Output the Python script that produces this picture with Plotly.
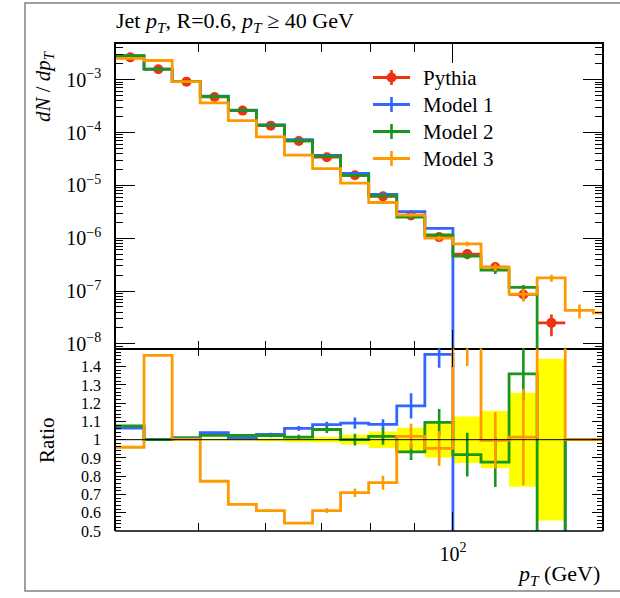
import math
import plotly.graph_objects as go

# ---- data -------------------------------------------------------------
# log-spaced jet pT bin edges (GeV)
edges = [40.0, 43.17, 46.6, 50.3, 54.29, 58.6, 63.25, 68.27, 73.68, 79.53,
         85.84, 92.65, 100.0, 107.94, 116.5, 125.74, 135.72, 146.49, 158.11]

pythia = [2.65e-3, 1.58e-3, 9.2e-4, 4.7e-4, 2.6e-4, 1.35e-4, 6.9e-5, 3.4e-5,
          1.55e-5, 6.2e-6, 2.7e-6, 1.05e-6, 5.0e-7, 2.85e-7, 8.6e-8, 2.5e-8,
          None, None]
pythia_relerr = [0.002, 0.003, 0.004, 0.005, 0.006, 0.008, 0.012, 0.016,
                 0.027, 0.045, 0.065, 0.098, 0.127, 0.157, 0.257, 0.443,
                 None, None]

model1 = [2.82e-3, 1.58e-3, 9.29e-4, 4.88e-4, 2.63e-4, 1.39e-4, 7.33e-5,
          3.68e-5, 1.69e-5, 6.72e-6, 3.20e-6, 1.54e-6, 0, 0, 0, 0, 0, 0]
model1_relerr = [0.003, 0.003, 0.004, 0.005, 0.006, 0.008, 0.012, 0.015,
                 0.028, 0.026, 0.058, 0.05, 0, 0, 0, 0, 0, 0]

model2 = [2.85e-3, 1.58e-3, 9.29e-4, 4.81e-4, 2.66e-4, 1.38e-4, 7.0e-5,
          3.59e-5, 1.55e-5, 6.31e-6, 2.52e-6, 1.15e-6, 4.59e-7, 2.50e-7,
          1.17e-7, 0, 0, 0]
model2_relerr = [0.003, 0.003, 0.004, 0.005, 0.006, 0.008, 0.012, 0.018,
                 0.032, 0.045, 0.047, 0.067, 0.13, 0.155, 0.107, 0, 0, 0]

model3 = [2.54e-3, 2.31e-3, 9.23e-4, 3.63e-4, 1.68e-4, 8.26e-5, 3.75e-5,
          2.08e-5, 1.10e-5, 4.74e-6, 2.75e-6, 1.0e-6, 7.8e-7, 2.84e-7,
          8.72e-8, 1.77e-7, 4.3e-8, 3.85e-8]
model3_relerr = [0.003, 0.003, 0.004, 0.006, 0.008, 0.01, 0.012, 0.022,
                 0.033, 0.05, 0.067, 0.1, 0.1, 0.155, 0.26, 0.15, 0.3, 0.35]

main_decades = [1e-3, 1e-4, 1e-5, 1e-6, 1e-7, 1e-8]
main_ticktext = ["10<sup>−3</sup>", "10<sup>−4</sup>", "10<sup>−5</sup>",
                 "10<sup>−6</sup>", "10<sup>−7</sup>", "10<sup>−8</sup>"]
ratio_tickvals = [0.5, 0.6, 0.7, 0.8, 0.9, 1.0, 1.1, 1.2, 1.3, 1.4]
ratio_ticktext = ["0.5", "0.6", "0.7", "0.8", "0.9", "1", "1.1", "1.2", "1.3", "1.4"]
x_minor_ticks = [50, 60, 70, 80, 90]

series = [
    ("Model 1", model1, model1_relerr, "#3366FF"),
    ("Model 2", model2, model2_relerr, "#1A961A"),
    ("Model 3", model3, model3_relerr, "#FF9900"),
]
RED = "#EE3311"

# ---- geometry ---------------------------------------------------------
W, H = 620, 598
L, R, T, B = 116, 18, 44, 67
PW, PH = W - L - R, H - T - B
SPLIT = 0.375
FONT = "Liberation Serif"


def px(x):
    return (x - L) / PW


def py(y):
    return (H - B - y) / PH


centers = [(edges[i] + edges[i + 1]) / 2 for i in range(len(edges) - 1)]
lo = [centers[i] - edges[i] for i in range(len(centers))]
hi = [edges[i + 1] - centers[i] for i in range(len(centers))]

fig = go.Figure()
HIDDEN = dict(size=1, opacity=0)

# ---- main panel: reference points ------------------------------------
ix = [i for i, v in enumerate(pythia) if v is not None]
fig.add_trace(go.Scatter(
    x=[centers[i] for i in ix], y=[pythia[i] for i in ix],
    mode="markers", marker=dict(color=RED, size=10),
    error_x=dict(type="data", symmetric=False,
                 array=[hi[i] for i in ix], arrayminus=[lo[i] for i in ix],
                 color=RED, thickness=2.6, width=0),
    error_y=dict(type="data", array=[pythia[i] * pythia_relerr[i] for i in ix],
                 color=RED, thickness=2.6, width=0),
    xaxis="x", yaxis="y", showlegend=False, hoverinfo="skip"))

# ---- ratio panel: reference uncertainty band ---------------------------
band = [e if e is not None else 0.0 for e in pythia_relerr]
fig.add_trace(go.Scatter(
    x=edges, y=[1 + e for e in band] + [1 + band[-1]], mode="lines",
    line=dict(width=0, shape="hv", color="#FFFF00"),
    xaxis="x2", yaxis="y2", showlegend=False, hoverinfo="skip"))
fig.add_trace(go.Scatter(
    x=edges, y=[1 - e for e in band] + [1 - band[-1]], mode="lines",
    line=dict(width=0, shape="hv", color="#FFFF00"), fill="tonexty",
    fillcolor="#FFFF00",
    xaxis="x2", yaxis="y2", showlegend=False, hoverinfo="skip"))

FLOOR = 1e-12  # empty bins sit far below the visible log range

for name, vals, rel, col in series:
    # main panel histogram
    ys = [v if v > 0 else FLOOR for v in vals]
    fig.add_trace(go.Scatter(
        x=edges, y=ys + [ys[-1]], mode="lines",
        line=dict(color=col, width=2.8, shape="hv"),
        xaxis="x", yaxis="y", showlegend=False, hoverinfo="skip"))
    jx = [i for i, v in enumerate(vals) if v > 0]
    fig.add_trace(go.Scatter(
        x=[centers[i] for i in jx], y=[vals[i] for i in jx],
        mode="markers", marker=HIDDEN,
        error_y=dict(type="data", array=[vals[i] * rel[i] for i in jx],
                     color=col, thickness=2.6, width=0),
        xaxis="x", yaxis="y", showlegend=False, hoverinfo="skip"))

    # ratio panel
    ratio, rerr = [], []
    for v, e, p in zip(vals, rel, pythia):
        if p is None:
            ratio.append(1.0)
            rerr.append(0.0)
        else:
            ratio.append(v / p)
            rerr.append(v * e / p)
    fig.add_trace(go.Scatter(
        x=edges, y=ratio + [ratio[-1]], mode="lines",
        line=dict(color=col, width=2.8, shape="hv"),
        xaxis="x2", yaxis="y2", showlegend=False, hoverinfo="skip"))
    kx = [i for i in range(len(vals)) if vals[i] > 0 and pythia[i] is not None]
    fig.add_trace(go.Scatter(
        x=[centers[i] for i in kx], y=[ratio[i] for i in kx],
        mode="markers", marker=HIDDEN,
        error_y=dict(type="data", array=[rerr[i] for i in kx],
                     color=col, thickness=2.6, width=0),
        xaxis="x2", yaxis="y2", showlegend=False, hoverinfo="skip"))

# unity line in the ratio panel
fig.add_trace(go.Scatter(
    x=[edges[0], edges[-1]], y=[1, 1], mode="lines",
    line=dict(color="black", width=1),
    xaxis="x2", yaxis="y2", showlegend=False, hoverinfo="skip"))

# ---- axes ---------------------------------------------------------------
axis_common = dict(showgrid=False, zeroline=False, showline=True,
                   linecolor="black", linewidth=1.5, mirror="allticks",
                   ticks="inside", tickcolor="black", tickwidth=1.2,
                   tickfont=dict(family=FONT, size=20, color="black"))
xrange = [math.log10(40), math.log10(150)]
xminor = dict(tickmode="array", tickvals=x_minor_ticks, ticks="inside",
              ticklen=8, tickcolor="black", tickwidth=1.2)

y_minor_vals = [m * 10.0 ** k for k in range(-9, -1) for m in range(2, 10)]

fig.update_layout(
    width=W, height=H,
    margin=dict(l=L, r=R, t=T, b=B, pad=0),
    paper_bgcolor="white", plot_bgcolor="white",
    xaxis=dict(axis_common, type="log", range=xrange, domain=[0, 1],
               anchor="y", tickmode="array", tickvals=[100], ticklen=19,
               showticklabels=False, minor=xminor),
    # the ratio panel's own frame line is hidden; its ticks remain
    xaxis2=dict(axis_common, type="log", range=xrange, domain=[0, 1],
                anchor="y2", matches="x", tickmode="array", tickvals=[100],
                ticktext=["10<sup>2</sup>"], ticklen=19,
                linecolor="rgba(0,0,0,0)",
                ticklabelstandoff=4, minor=xminor),
    yaxis=dict(axis_common, type="log", range=[-8.085, -2.324],
               domain=[SPLIT, 1], anchor="x", tickmode="array",
               tickvals=main_decades, ticktext=main_ticktext, ticklen=19,
               ticklabelstandoff=9,
               minor=dict(tickmode="array", tickvals=y_minor_vals,
                          ticks="inside", ticklen=7, tickcolor="black",
                          tickwidth=1.2)),
    yaxis2=dict(axis_common, range=[0.5, 1.5], domain=[0, SPLIT],
                anchor="x2", tickmode="array", tickvals=ratio_tickvals,
                ticktext=ratio_ticktext, ticklen=10, ticklabelstandoff=10,
                tickfont=dict(family=FONT, size=16, color="black"),
                minor=dict(dtick=0.02, tick0=0.5, ticks="inside", ticklen=5.5,
                           tickcolor="black", tickwidth=1.2)),
)

# ---- labels -----------------------------------------------------------------
ann = []
ann.append(dict(text="Jet <i>p</i><sub><i>T</i></sub>, R=0.6, "
                     "<i>p</i><sub><i>T</i></sub> ≥ 40 GeV",
                x=px(114), y=py(22), xanchor="left", yanchor="middle",
                font=dict(family=FONT, size=22, color="black")))
ann.append(dict(text="<i>dN</i> / <i>dp</i><sub><i>T</i></sub>",
                x=px(44), y=py(86), xanchor="center", yanchor="middle",
                textangle=-90, font=dict(family=FONT, size=21, color="black")))
ann.append(dict(text="Ratio", x=px(47), y=py(440), xanchor="center",
                yanchor="middle", textangle=-90,
                font=dict(family=FONT, size=21, color="black")))
ann.append(dict(text="<i>p</i><sub><i>T</i></sub> (GeV)", x=px(602),
                y=py(575), xanchor="right", yanchor="middle",
                font=dict(family=FONT, size=22, color="black")))

# legend
shapes = []
legend_rows = [("Pythia", RED, 77.5)] + [(n, c, y) for (n, _, _, c), y in
                                          zip(series, [104.5, 131.5, 158.5])]
for i, (name, col, yrow) in enumerate(legend_rows):
    shapes.append(dict(type="line", xref="paper", yref="paper",
                       x0=px(373), x1=px(410), y0=py(yrow), y1=py(yrow),
                       line=dict(color=col, width=2.8)))
    shapes.append(dict(type="line", xref="paper", yref="paper",
                       x0=px(391.5), x1=px(391.5), y0=py(yrow - 7.5),
                       y1=py(yrow + 7.5), line=dict(color=col, width=2.6)))
    if i == 0:
        shapes.append(dict(type="circle", xref="paper", yref="paper",
                           x0=px(386.5), x1=px(396.5), y0=py(yrow + 5),
                           y1=py(yrow - 5), fillcolor=col,
                           line=dict(color=col, width=0)))
    ann.append(dict(text=name, x=px(421), y=py(yrow), xanchor="left",
                    yanchor="middle",
                    font=dict(family=FONT, size=21, color="black")))

# bottom frame line of the ratio panel
shapes.append(dict(type="line", xref="paper", yref="paper",
                   x0=-0.0015, x1=1.0015, y0=0, y1=0,
                   line=dict(color="black", width=1.5)))
# outer frame
shapes.append(dict(type="rect", xref="paper", yref="paper",
                   x0=px(25), x1=px(640), y0=py(591), y1=py(3),
                   line=dict(color="#808080", width=1.5), layer="below"))

for a in ann:
    a.update(xref="paper", yref="paper", showarrow=False)
fig.update_layout(annotations=ann, shapes=shapes)

fig.write_html("out.html")
